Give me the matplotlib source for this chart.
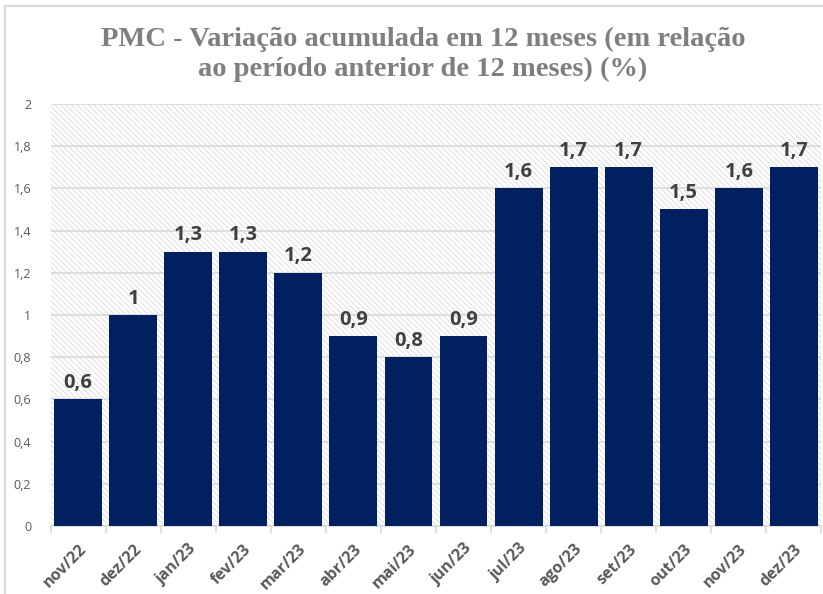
import matplotlib.pyplot as plt
from matplotlib.patches import Rectangle
from matplotlib.lines import Line2D

meses = ["nov/22", "dez/22", "jan/23", "fev/23", "mar/23", "abr/23", "mai/23",
         "jun/23", "jul/23", "ago/23", "set/23", "out/23", "nov/23", "dez/23"]
variacao = [0.6, 1.0, 1.3, 1.3, 1.2, 0.9, 0.8, 0.9, 1.6, 1.7, 1.7, 1.5, 1.6, 1.7]
yticks = [0, 0.2, 0.4, 0.6, 0.8, 1.0, 1.2, 1.4, 1.6, 1.8, 2.0]


def fmt(v):
    s = ("%.1f" % v).rstrip("0").rstrip(".")
    return s.replace(".", ",")


plt.rcParams["hatch.linewidth"] = 0.6
fig = plt.figure(figsize=(8.23, 5.94), dpi=100)
ax = fig.add_axes([0.0615, 0.1145, 0.9365, 0.7105])

# fundo hachurado
ax.add_patch(Rectangle((0, 0), 1, 1, transform=ax.transAxes, facecolor="white",
                       edgecolor="#d9d9d9", hatch="\\\\\\\\\\\\", linewidth=0, zorder=0))

ax.set_axisbelow(True)
ax.yaxis.grid(True, color="#d9d9d9", linewidth=1.2, zorder=1)

x = range(len(meses))
ax.bar(x, variacao, width=0.87, color="#002060", zorder=3)

for i, v in enumerate(variacao):
    ax.text(i, v + 0.03, fmt(v), ha="center", va="bottom", fontsize=14.5,
            fontweight="bold", color="#404040", family="Open Sans", zorder=4)

ax.set_xlim(-0.5, len(meses) - 0.5)
ax.set_ylim(0, 2)
ax.set_yticks(yticks)
ax.set_yticklabels([fmt(t) for t in yticks], fontsize=9, color="#595959", family="Open Sans")
ax.set_xticks(list(x))
ax.set_xticklabels(meses, rotation=45, ha="right", rotation_mode="anchor",
                   fontsize=11.5, fontweight="bold", color="#595959", family="Open Sans")
ax.tick_params(axis="y", length=0, pad=14)
ax.tick_params(axis="x", length=0, pad=11)
ax.set_xticks([i - 0.5 for i in range(len(meses) + 1)], minor=True)
ax.tick_params(axis="x", which="minor", length=5, color="#d9d9d9", width=1.2)

for s in ["top", "right", "left"]:
    ax.spines[s].set_visible(False)
ax.spines["bottom"].set_color("#d9d9d9")
ax.spines["bottom"].set_linewidth(1.2)

fig.text(0.514, 0.955, "PMC - Variação acumulada em 12 meses (em relação\nao período anterior de 12 meses) (%)",
         ha="center", va="top", fontsize=20.5, fontweight="bold", color="#7f7f7f",
         family="Liberation Serif", linespacing=1.25)

# borda do gráfico
fig.add_artist(Line2D([0.006, 1], [0.99, 0.99], transform=fig.transFigure, color="#d9d9d9", linewidth=1.5))
fig.add_artist(Line2D([0.006, 0.006], [0, 0.99], transform=fig.transFigure, color="#d9d9d9", linewidth=1.5))

fig.savefig("out.png", dpi=100)
